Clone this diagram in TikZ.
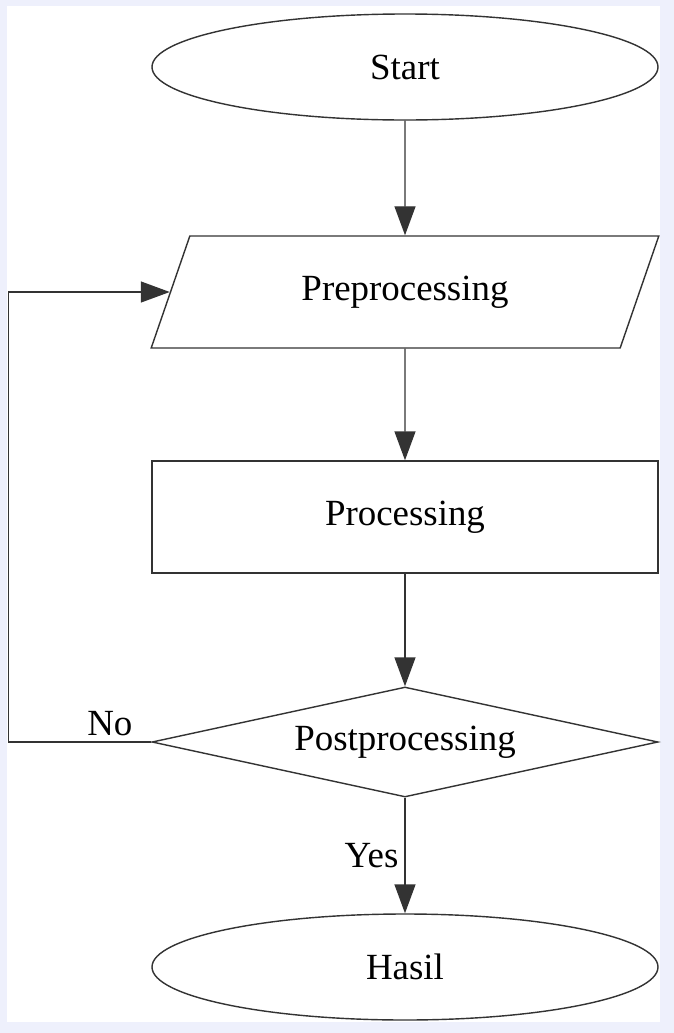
\documentclass[tikz,border=0pt]{standalone}
\usepackage{fontspec}
\setmainfont{Liberation Serif}
\usetikzlibrary{shapes.geometric,arrows.meta}
\definecolor{framebg}{HTML}{EEF0FC}
\begin{document}
\begin{tikzpicture}[node distance=4.5cm, auto, >={Triangle[length=5.8mm,width=4.2mm]}]
    \tikzstyle{terminal} = [ellipse, minimum width=10.12cm, minimum height=2.12cm, draw=black!80, line width=0.8pt, fill=white, font=\fontsize{21}{25}\selectfont]
    \tikzstyle{io} = [trapezium, trapezium left angle=66, trapezium right angle=114, trapezium stretches=true, minimum width=10.16cm, minimum height=2.24cm, draw=black!80, line width=0.8pt, fill=white, font=\fontsize{21}{25}\selectfont]
    \tikzstyle{process} = [rectangle, minimum width=10.12cm, minimum height=2.24cm, draw=black!80, line width=0.8pt, fill=white, font=\fontsize{21}{25}\selectfont]
    \tikzstyle{decision} = [diamond, aspect=4.6, minimum width=10.12cm, minimum height=2.2cm, inner sep=0pt, draw=black!80, line width=0.8pt, fill=white, font=\fontsize{21}{25}\selectfont]
    \tikzstyle{link} = [->, draw=black!80, line width=0.8pt]

    % Frame
    \fill[framebg] (-8.1,1.34) rectangle (5.38,-19.32);
    \fill[white] (-7.96,1.22) rectangle (5.1,-19.1);
    \useasboundingbox (-8.1,1.34) rectangle (5.38,-19.32);

    % Steps
    \node [terminal] (start) at (0,0) {Start};
    \node [io, below of=start] (pre) {Preprocessing};
    \node [process, below of=pre] (proc) {Processing};
    \node [decision, below of=proc] (post) {Postprocessing};
    \node [terminal, below of=post] (hasil) {Hasil};

    % Connections
    \draw [link] (start) -- (pre);
    \draw [link] (pre) -- (proc);
    \draw [link] (proc) -- (post);
    \draw [link] (post) -- node [left, font=\fontsize{21}{25}\selectfont] {Yes} (hasil);
    \draw [link] (post.west) -- node [above, pos=0.29, font=\fontsize{21}{25}\selectfont] {No} ++(-2.86,0) |- (pre);
\end{tikzpicture}
\end{document}
